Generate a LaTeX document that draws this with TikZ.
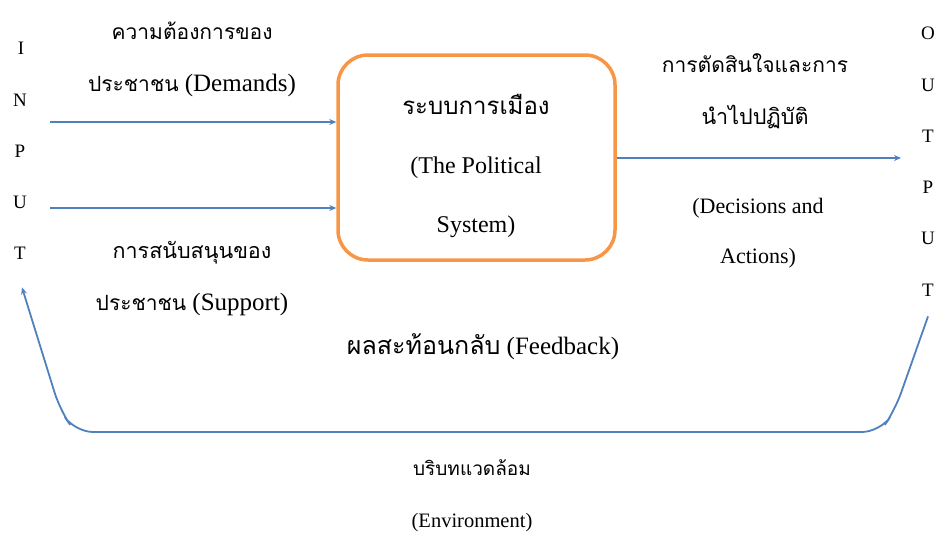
\documentclass[tikz,border=0pt]{standalone}
\usepackage{fontspec}
\setmainfont{Liberation Serif}
\newfontfamily\thai[Script=Thai]{Loma}
\usetikzlibrary{arrows.meta}
\definecolor{lineblue}{HTML}{4F81BD}
\definecolor{boxorange}{HTML}{F79646}
\newcommand\thaitxt[2]{{\fontsize{#1}{52}\thai #2}}
\tikzset{
  lbl/.style={align=center,inner sep=0pt},
  letter/.style={inner sep=0pt,font=\fontsize{19}{19}\selectfont},
  flow/.style={draw=lineblue,line width=1.8pt,-{Stealth[length=7pt,width=6pt]}},
  fb/.style={draw=lineblue,line width=1.8pt,rounded corners=18pt},
  sysbox/.style={draw=boxorange,line width=3.5pt,rounded corners=30pt,minimum width=277pt,minimum height=205pt,inner sep=0pt}
}
\begin{document}
\begin{tikzpicture}[x=1pt,y=-1pt]
\useasboundingbox (0,0) rectangle (941,541);
% INPUT letters
\node[letter] (iI) at (21,48) {I};
\node[letter] (iN) at (20,100) {N};
\node[letter] (iP) at (20,151) {P};
\node[letter] (iU) at (20,202) {U};
\node[letter] (iT) at (20,253) {T};
% OUTPUT letters
\node[letter] (oO) at (928,33) {O};
\node[letter] (oU) at (928,85) {U};
\node[letter] (oT) at (928,136) {T};
\node[letter] (oP) at (928,187) {P};
\node[letter] (oU2) at (928,238) {U};
\node[letter] (oT2) at (928,290) {T};
% system box
\node[sysbox] (sys) at (476.5,157.5) {};
\node[lbl,font=\fontsize{24}{59}\selectfont] (systxt) at (476,166) {\thaitxt{24}{ระบบการเมือง}\\(The Political\\System)};
% start points for inputs
\coordinate (dS) at (50,122);
\coordinate (sS) at (50,208);
\coordinate (oE) at (901,158);
\draw[flow] (dS) -- (sys.west |- dS);
\draw[flow] (sS) -- (sys.west |- sS);
\draw[flow] (sys.east |- oE) -- (oE);
% labels
\node[lbl,font=\fontsize{25}{52}\selectfont] (dem) at (192,59) {\thaitxt{21}{ความต้องการของ}\\\thaitxt{21}{ประชาชน} (Demands)};
\node[lbl,font=\fontsize{25}{52}\selectfont] (sup) at (192,279) {\thaitxt{21.5}{การสนับสนุนของ}\\\thaitxt{21}{ประชาชน} (Support)};
\node[lbl,font=\fontsize{21}{52}\selectfont] (dec) at (755,91) {\thaitxt{21}{การตัดสินใจและการ}\\\thaitxt{21.5}{นำไปปฏิบัติ}};
\node[lbl,font=\fontsize{22}{50}\selectfont] (act) at (758,233) {(Decisions and\\Actions)};
\node[lbl,font=\fontsize{25}{52}\selectfont] (fbl) at (483,347) {\thaitxt{25}{ผลสะท้อนกลับ} (Feedback)};
\node[lbl,font=\fontsize{20.5}{52}\selectfont] (env) at (472,496) {\thaitxt{19}{บริบทแวดล้อม}\\(Environment)};
% feedback loop
\draw[fb,-{Stealth[length=7pt,width=6pt]}] ([shift={(0,20)}]oT2.south) -- (895,410) -- (880,432) -- (75,432) -- (60,410) -- ([shift={(2,28)}]iT.south);
\end{tikzpicture}
\end{document}
